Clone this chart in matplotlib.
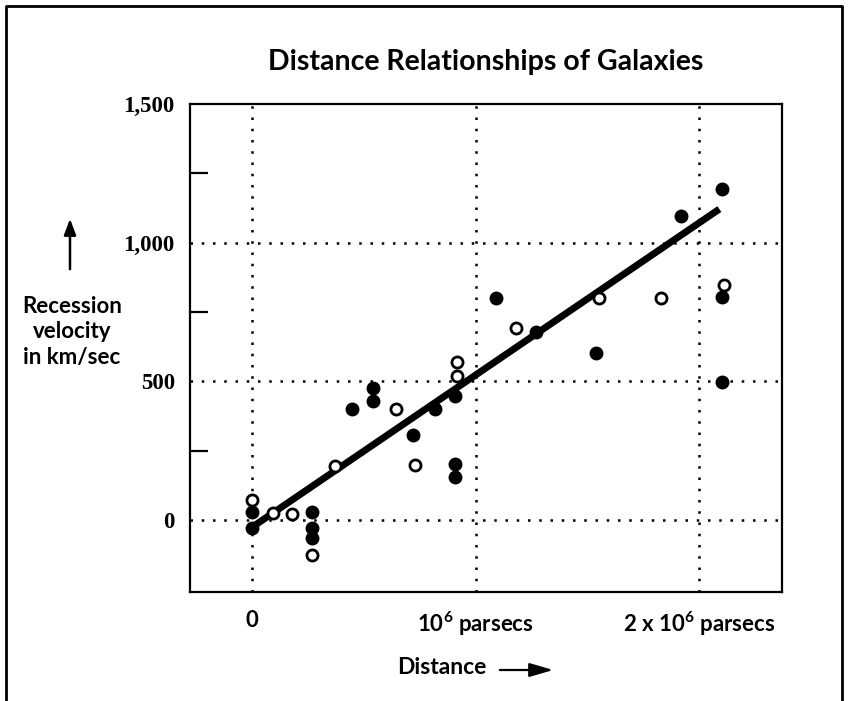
import matplotlib
matplotlib.use("Agg")
from matplotlib import pyplot as plt
from matplotlib.lines import Line2D

plt.rcParams['font.family'] = ['Lato', 'DejaVu Sans']
plt.rcParams['mathtext.fontset'] = 'custom'
plt.rcParams['mathtext.rm'] = 'Lato:bold'
plt.rcParams['mathtext.bf'] = 'Lato:bold'

# distance in units of 10^6 parsecs, velocity in km/sec
filled_x = [0.0, 0.0, 0.27, 0.27, 0.27, 0.447, 0.54, 0.54, 0.72, 0.82,
            0.91, 0.91, 0.91, 1.09, 1.27, 1.54, 1.92, 2.10, 2.10, 2.10]
filled_y = [30, -30, 30, -28, -65, 400, 476, 429, 306, 400,
            447, 202, 155, 800, 678, 602, 1096, 1194, 804, 497]

open_x = [0.0, 0.094, 0.18, 0.27, 0.37, 0.645, 0.73, 0.917, 0.917, 1.18,
          1.55, 1.83, 2.11]
open_y = [72, 25, 22, -126, 195, 400, 198, 570, 519, 692,
          800, 800, 847]

fit_x = [-0.01, 2.09]
fit_y = [-32, 1121]

grid_x = [0, 1, 2]
grid_y = [0, 500, 1000]
y_ticks = [0, 500, 1000, 1500]
y_labels = ['0', '500', '1,000', '1,500']
y_minor = [250, 750, 1250]
x_labels = ['0', r'10$^{\mathbf{6}}$ parsecs', r'2 x 10$^{\mathbf{6}}$ parsecs']

fig = plt.figure(figsize=(8.48, 7.01), dpi=100)
ax = fig.add_axes([190/848, 109/701, 592/848, 488/701])

for gx in grid_x:
    ax.axvline(gx, color='black', lw=1.8, ls=(0, (1, 3.5)), zorder=1)
for gy in grid_y:
    ax.axhline(gy, color='black', lw=1.8, ls=(0, (1, 3.5)), zorder=1)

ax.plot(fit_x, fit_y, color='black', lw=5, solid_capstyle='butt', zorder=2)
ax.plot(filled_x, filled_y, 'o', color='black', ms=9, zorder=3)
ax.plot(open_x, open_y, 'o', mfc='white', mec='black', ms=8, mew=2, zorder=3)

ax.set_xlim(-0.277, 2.37)
ax.set_ylim(-260, 1500)

for s in ax.spines.values():
    s.set_linewidth(1.6)

ax.set_yticks(y_ticks)
ax.set_yticklabels(y_labels, family='Liberation Serif', fontweight='bold', fontsize=16.5)
ax.set_yticks(y_minor, minor=True)
ax.tick_params(axis='y', which='major', length=0, pad=11)
ax.tick_params(axis='y', which='minor', direction='in', length=13, width=1.6)

ax.set_xticks(grid_x)
ax.set_xticklabels(x_labels, fontweight='bold', fontsize=16)
ax.tick_params(axis='x', length=0, pad=13)

fig.text(486/848, 1 - 62/701, 'Distance Relationships of Galaxies',
         ha='center', va='center', fontsize=20.5, fontweight='bold')

fig.text(72/848, 1 - 332/701, 'Recession\nvelocity\nin km/sec', ha='center', va='center',
         fontsize=16, fontweight='bold', linespacing=1.25)
fig.add_artist(matplotlib.patches.FancyArrowPatch(
    (70/848, 1 - 272/701), (70/848, 1 - 216/701), transform=fig.transFigure,
    arrowstyle='-|>,head_length=0.8,head_width=0.3', mutation_scale=12,
    color='black', lw=1.8))

fig.text(442/848, 1 - 668/701, 'Distance', ha='center', va='center',
         fontsize=16.5, fontweight='bold')
fig.add_artist(matplotlib.patches.FancyArrowPatch(
    (497/848, 1 - 670/701), (556/848, 1 - 670/701), transform=fig.transFigure,
    arrowstyle='-|>,head_length=1.2,head_width=0.35', mutation_scale=12,
    color='black', lw=1.6))

# frame around the figure, open at the bottom
fx0, fx1, fy1 = 6/848, 842/848, 1 - 6/701
fig.add_artist(Line2D([fx0, fx0, fx1, fx1], [0, fy1, fy1, 0],
                      transform=fig.transFigure, color='black', lw=2))

fig.savefig('out.png', dpi=100)
